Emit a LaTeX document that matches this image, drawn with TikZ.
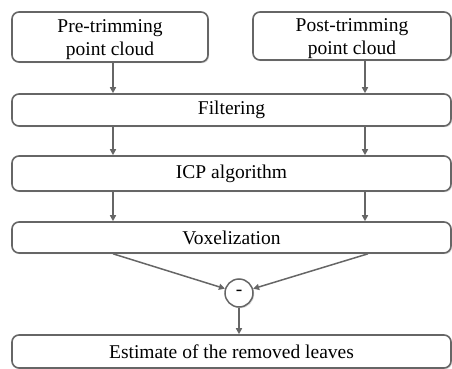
\documentclass[tikz,border=0pt]{standalone}
\usepackage{fontspec}
\setmainfont{Liberation Serif}
\usetikzlibrary{arrows.meta,shadows}
\definecolor{edge}{HTML}{666666}
\newcommand{\twoline}[2]{\raisebox{-2.5pt}[\height][\depth]{\parbox{190pt}{\centering #1\\#2}}}
\begin{document}
\begin{tikzpicture}[x=1pt,y=-1pt,
  box/.style={draw=edge, line width=1.6pt, rounded corners=7pt, fill=white,
    inner sep=0pt, align=center, font=\fontsize{19.5}{22.5}\selectfont,
    drop shadow={opacity=0.25, shadow xshift=1.2pt, shadow yshift=-1.2pt}},
  arr/.style={draw=edge, line width=1.5pt, -{Triangle[length=6pt,width=6pt]}},
  opnode/.style={circle, draw=edge, line width=1.5pt, fill=white, minimum size=28pt,
    inner sep=0pt, font=\fontsize{19.5}{22}\selectfont,
    drop shadow={opacity=0.3, shadow xshift=1.2pt, shadow yshift=-1.2pt}}]
\useasboundingbox (0,0) rectangle (452,369);
\node[box, minimum width=196pt, minimum height=50pt] (pre) at (110,37) {\twoline{Pre-trimming}{point cloud}};
\node[box, minimum width=198pt, minimum height=48pt] (post) at (352,36) {\twoline{Post-trimming}{point cloud}};
\node[box, minimum width=439pt, minimum height=32pt] (filt) at (231.5,110) {Filtering};
\node[box, minimum width=439pt, minimum height=35pt] (icp) at (231.5,173.5) {ICP algorithm};
\node[box, minimum width=439pt, minimum height=31pt] (vox) at (231.5,237.5) {Voxelization};
\node[opnode] (minus) at (239,293) {-};
\node[box, minimum width=439pt, minimum height=33pt] (est) at (231.5,351.5) {Estimate of the removed leaves};
\coordinate (lx) at (113,0);
\coordinate (rx) at (365,0);
\coordinate (rv) at (368,0);
\draw[arr] (pre.south -| lx) -- (filt.north -| lx);
\draw[arr] (post.south -| rx) -- (filt.north -| rx);
\draw[arr] (filt.south -| lx) -- (icp.north -| lx);
\draw[arr] (filt.south -| rx) -- (icp.north -| rx);
\draw[arr] (icp.south -| lx) -- (vox.north -| lx);
\draw[arr] (icp.south -| rx) -- (vox.north -| rx);
\draw[arr] (vox.south -| lx) -- (minus);
\draw[arr] (vox.south -| rv) -- (minus);
\draw[arr] (minus) -- (est.north -| minus);
\end{tikzpicture}
\end{document}
